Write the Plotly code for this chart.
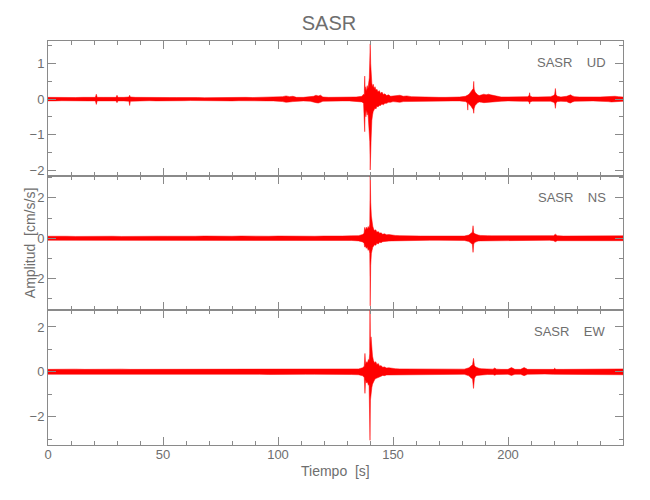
import plotly.graph_objects as go
from plotly.subplots import make_subplots

# ---------------- data (envelopes) ----------------
title_text = "SASR"
channels = ["UD", "NS", "EW"]

t_ud = [0, 3, 6, 9, 12, 15, 18, 20.6, 21.0, 21.4,
        24, 27, 29.6, 30.0, 30.4, 33, 35.2, 35.5, 35.8, 38,
        41, 44, 47, 50, 53, 56, 59, 62, 65, 68,
        71, 74, 77, 80, 83, 86, 89, 92, 95, 98,
        100, 102, 103.5, 105, 106.5, 108, 111, 114, 115.5, 116.5,
        117.5, 118.5, 119.5, 122, 125, 128, 131, 134, 136.5, 137.2,
        137.5, 137.7, 137.9, 138.2, 138.5, 138.8, 139.1, 139.4, 139.7, 139.9,
        140.1, 140.3, 140.5, 140.8, 141.1, 141.4, 141.8, 142.2, 142.6, 143.0,
        143.5, 144.0, 144.6, 145.2, 145.8, 146.5, 147.2, 148.0, 149, 150,
        151.5, 153, 154.5, 156, 158, 161, 164, 167, 170, 173,
        176, 179, 181.5, 182.3, 182.5, 182.7, 183.3, 183.9, 184.5, 184.9,
        185.1, 185.3, 185.7, 186.2, 186.8, 187.5, 188.5, 189.5, 190.5, 191.5,
        192.5, 193.5, 194.5, 195.5, 197, 200, 203, 206, 208.5, 209.2,
        209.4, 209.6, 210.5, 213, 216, 218.5, 219.8, 220.3, 220.6, 220.9,
        221.5, 223, 225.5, 226.5, 227.2, 228, 229, 231, 234, 237,
        240, 242, 243.5, 245, 246.5, 248, 250]
up_ud = [.05, .045, .05, .05, .045, .05, .05, .05, .14, .05,
         .05, .045, .05, .11, .05, .05, .06, .11, .06, .05,
         .045, .05, .045, .05, .045, .045, .05, .045, .045, .04,
         .045, .045, .05, .045, .045, .05, .045, .05, .05, .05,
         .05, .07, .09, .07, .08, .05, .05, .06, .08, .11,
         .09, .11, .06, .05, .05, .05, .05, .06, .08, .14,
         .12, .65, .25, .35, .22, .38, .28, .45, .60, 1.10,
         1.56, 1.00, .55, .45, .35, .42, .30, .35, .25, .28,
         .20, .24, .16, .20, .13, .15, .10, .12, .08, .09,
         .10, .11, .08, .09, .07, .06, .06, .05, .05, .05,
         .05, .06, .08, .10, .10, .12, .16, .22, .26, .30,
         .50, .28, .20, .16, .12, .10, .12, .14, .12, .14,
         .12, .11, .09, .08, .06, .06, .06, .06, .07, .10,
         .18, .09, .06, .06, .06, .07, .10, .14, .30, .12,
         .08, .06, .08, .11, .12, .09, .07, .06, .05, .06,
         .06, .07, .08, .09, .08, .07, .06]
lo_ud = [-.05, -.05, -.045, -.05, -.05, -.045, -.05, -.05, -.15, -.05,
         -.045, -.05, -.05, -.10, -.05, -.05, -.06, -.18, -.06, -.05,
         -.05, -.045, -.05, -.045, -.045, -.05, -.045, -.04, -.045, -.045,
         -.04, -.045, -.045, -.05, -.045, -.04, -.045, -.045, -.05, -.05,
         -.05, -.07, -.09, -.08, -.07, -.05, -.05, -.06, -.08, -.10,
         -.11, -.09, -.06, -.05, -.05, -.05, -.05, -.06, -.08, -.12,
         -.15, -.92, -.30, -.50, -.30, -.45, -.35, -.55, -.90, -1.20,
         -2.00, -1.40, -1.10, -.60, -.45, -.35, -.30, -.25, -.28, -.20,
         -.22, -.18, -.18, -.14, -.16, -.12, -.12, -.09, -.09, -.07,
         -.08, -.09, -.07, -.07, -.06, -.06, -.05, -.05, -.05, -.05,
         -.05, -.05, -.07, -.10, -.31, -.12, -.16, -.20, -.24, -.30,
         -.40, -.26, -.18, -.14, -.10, -.08, -.09, -.10, -.10, -.10,
         -.10, -.09, -.08, -.07, -.06, -.05, -.05, -.06, -.06, -.08,
         -.14, -.08, -.06, -.05, -.06, -.06, -.09, -.12, -.26, -.10,
         -.07, -.06, -.07, -.10, -.11, -.08, -.06, -.05, -.05, -.05,
         -.06, -.06, -.07, -.08, -.07, -.07, -.06]

t_ns = [0, 4, 8, 12, 16, 20, 24, 28, 32, 36,
        40, 44, 48, 52, 56, 60, 64, 68, 72, 76,
        80, 84, 88, 92, 96, 100, 104, 108, 112, 116,
        120, 124, 128, 132, 135, 136.8, 137.4, 137.7, 138.0, 138.4,
        138.8, 139.2, 139.6, 139.9, 140.1, 140.3, 140.6, 140.9, 141.2, 141.6,
        142.0, 142.5, 143.0, 143.6, 144.2, 144.8, 145.5, 146.3, 147.2, 148.2,
        149.5, 151, 153, 155, 158, 162, 166, 170, 174, 178,
        181, 183, 184.0, 184.5, 184.8, 185.1, 185.6, 186.2, 187, 188,
        189.5, 191, 193, 195, 198, 202, 206, 210, 214, 218,
        219.8, 220.6, 221.4, 224, 228, 232, 236, 240, 244, 247,
        250]
up_ns = [.10, .11, .10, .09, .10, .11, .10, .10, .09, .10,
         .10, .11, .10, .10, .09, .10, .10, .11, .10, .10,
         .10, .11, .10, .10, .10, .11, .10, .10, .11, .10,
         .11, .10, .11, .12, .13, .18, .25, .54, .40, .55,
         .45, .58, .50, .70, 3.40, 1.78, 1.10, .75, .60, .45,
         .38, .42, .30, .33, .25, .27, .20, .22, .17, .18,
         .15, .14, .13, .12, .12, .11, .11, .10, .11, .10,
         .11, .16, .25, .30, .62, .28, .22, .18, .16, .14,
         .15, .13, .12, .12, .11, .11, .11, .11, .11, .11,
         .13, .20, .13, .11, .11, .11, .12, .12, .12, .12,
         .12]
lo_ns = [-.10, -.09, -.10, -.10, -.10, -.10, -.09, -.10, -.10, -.10,
         -.09, -.10, -.10, -.09, -.10, -.10, -.10, -.10, -.09, -.10,
         -.10, -.10, -.10, -.10, -.10, -.10, -.10, -.10, -.10, -.10,
         -.10, -.10, -.11, -.11, -.13, -.18, -.25, -.44, -.40, -.50,
         -.45, -.60, -.55, -.75, -3.35, -1.35, -.75, -.60, -.45, -.38,
         -.32, -.35, -.25, -.28, -.20, -.22, -.17, -.18, -.15, -.14,
         -.13, -.12, -.12, -.11, -.11, -.10, -.10, -.10, -.10, -.10,
         -.11, -.16, -.25, -.30, -.70, -.28, -.20, -.16, -.14, -.13,
         -.13, -.12, -.11, -.11, -.10, -.10, -.10, -.10, -.10, -.10,
         -.12, -.17, -.12, -.10, -.10, -.10, -.11, -.11, -.12, -.12,
         -.12]

t_ew = [0, 4, 8, 12, 16, 20, 24, 28, 32, 36,
        40, 44, 48, 52, 56, 60, 64, 68, 72, 76,
        80, 84, 88, 92, 96, 100, 104, 108, 112, 116,
        120, 124, 128, 132, 135, 136.8, 137.5, 137.8, 138.1, 138.5,
        138.9, 139.3, 139.6, 139.85, 140.0, 140.2, 140.45, 140.8, 141.1, 141.5,
        142.0, 142.5, 143.0, 143.6, 144.2, 144.8, 145.5, 146.3, 147.2, 148.2,
        149.5, 151, 153, 155, 158, 162, 166, 170, 174, 178,
        181, 183, 184.0, 184.6, 185.0, 185.4, 185.9, 186.5, 187.3, 188.3,
        189.5, 191, 193.5, 194.2, 195, 197, 200, 201.5, 203, 205.5,
        207, 208.5, 212, 216, 219.8, 220.3, 220.8, 224, 228, 232,
        236, 240, 244, 247, 250]
up_ew = [.11, .12, .11, .12, .11, .12, .12, .11, .12, .11,
         .11, .12, .12, .11, .11, .12, .11, .12, .11, .11,
         .12, .11, .11, .12, .11, .12, .12, .11, .12, .11,
         .12, .11, .12, .12, .13, .18, .25, .82, .33, .45,
         .40, .55, .50, .80, 3.00, 1.20, 1.56, .90, .70, .50,
         .40, .45, .33, .37, .25, .28, .20, .22, .17, .18,
         .15, .14, .13, .13, .12, .12, .11, .11, .12, .11,
         .12, .18, .28, .32, .60, .28, .22, .18, .16, .14,
         .14, .13, .12, .17, .12, .11, .11, .19, .11, .11,
         .19, .11, .11, .11, .11, .16, .11, .11, .11, .12,
         .11, .12, .12, .13, .13]
lo_ew = [-.11, -.11, -.12, -.11, -.12, -.11, -.11, -.12, -.11, -.12,
         -.11, -.11, -.12, -.11, -.12, -.11, -.12, -.11, -.11, -.12,
         -.11, -.12, -.11, -.11, -.12, -.11, -.11, -.12, -.11, -.11,
         -.11, -.12, -.11, -.12, -.13, -.18, -.25, -.96, -.35, -.50,
         -.45, -.60, -.55, -.75, -3.05, -1.26, -1.00, -.70, -.55, -.45,
         -.35, -.30, -.28, -.25, -.22, -.20, -.16, -.17, -.14, -.14,
         -.13, -.12, -.12, -.11, -.11, -.11, -.11, -.11, -.11, -.11,
         -.11, -.18, -.28, -.32, -.74, -.30, -.20, -.16, -.14, -.13,
         -.13, -.12, -.12, -.15, -.12, -.11, -.11, -.16, -.11, -.11,
         -.17, -.11, -.11, -.10, -.11, -.14, -.11, -.11, -.11, -.11,
         -.11, -.11, -.12, -.13, -.13]

x_ticks = [0, 50, 100, 150, 200]
y_ranges = [[-2.16, 1.64], [-3.57, 3.1], [-3.26, 2.74]]
y_dticks = [1, 2, 2]
y_minor = [0.5, 1, 1]
label_y = [1.04, 2.02, 1.78]

# ---------------- figure ----------------
GRAY = "#8a8a8a"
TXT = "#6e6e6e"
FONT = "Liberation Sans, Arial, sans-serif"

fig = make_subplots(rows=3, cols=1, shared_xaxes=True, vertical_spacing=0)

series = [(t_ud, up_ud, lo_ud), (t_ns, up_ns, lo_ns), (t_ew, up_ew, lo_ew)]
for i, (t, up, lo) in enumerate(series):
    assert len(t) == len(up) == len(lo), (i, len(t), len(up), len(lo))
    xs = list(t) + list(t)[::-1]
    ys = list(up) + list(lo)[::-1]
    fig.add_trace(go.Scatter(x=xs, y=ys, mode="lines", fill="toself",
                             fillcolor="rgba(255,0,0,1)",
                             line=dict(color="rgba(255,0,0,1)", width=0.5),
                             hoverinfo="skip", showlegend=False), row=i + 1, col=1)

for i in range(3):
    fig.update_xaxes(row=i + 1, col=1, range=[0, 250], tickvals=x_ticks,
                     ticks="inside", ticklen=8, tickcolor=GRAY, tickwidth=1,
                     showline=True, linecolor=GRAY, linewidth=1, mirror="allticks",
                     showgrid=False, zeroline=False, showticklabels=(i == 2),
                     tickfont=dict(family=FONT, size=13, color=TXT), ticklabelstandoff=-3,
                     minor=dict(dtick=10, ticks="inside", ticklen=4, tickcolor=GRAY, showgrid=False))
    fig.update_yaxes(row=i + 1, col=1, range=y_ranges[i], dtick=y_dticks[i], tick0=0,
                     ticks="inside", ticklen=8, tickcolor=GRAY, tickwidth=1,
                     showline=True, linecolor=GRAY, linewidth=1, mirror="allticks",
                     showgrid=False, zeroline=False,
                     tickfont=dict(family=FONT, size=13, color=TXT),
                     minor=dict(dtick=y_minor[i], tick0=0, ticks="inside", ticklen=4,
                                tickcolor=GRAY, showgrid=False))
    fig.add_annotation(x=243.3, y=label_y[i], xref=f"x{i + 1}" if i else "x",
                       yref=f"y{i + 1}" if i else "y", text="SASR&nbsp;&nbsp;&nbsp;&nbsp;" + channels[i],
                       showarrow=False, xanchor="right", yanchor="middle",
                       font=dict(family=FONT, size=13, color=TXT))

fig.add_annotation(x=0.5, y=-0.064, xref="paper", yref="paper", text="Tiempo  [s]",
                   showarrow=False, xanchor="center", yanchor="middle",
                   font=dict(family=FONT, size=14, color=TXT))
fig.add_annotation(x=-0.031, y=0.5, xref="paper", yref="paper", text="Amplitud  [cm/s/s]",
                   textangle=-90, showarrow=False, xanchor="center", yanchor="middle",
                   font=dict(family=FONT, size=14, color=TXT))

# page body has an 8 px margin, so the figure is sized and offset to compensate
fig.update_layout(
    width=642, height=492, autosize=False,
    margin=dict(l=40, r=27, t=33, b=55),
    paper_bgcolor="white", plot_bgcolor="white",
    title=dict(text=title_text, x=0.5, xanchor="center", y=0.9705, yanchor="middle",
               font=dict(family=FONT, size=20, color=TXT)),
    showlegend=False,
)

fig.write_html("out.html")
